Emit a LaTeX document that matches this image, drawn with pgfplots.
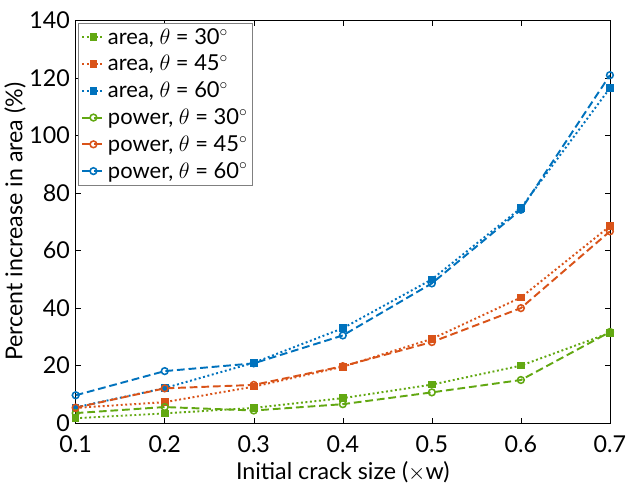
\documentclass[border={0pt 0pt 2pt 6pt}]{standalone}
\usepackage{fontspec}
\setmainfont{Lato}
\usepackage{pgfplots}
\pgfplotsset{compat=1.18}
\definecolor{mgreen}{HTML}{62A812}
\definecolor{morange}{HTML}{D95319}
\definecolor{mblue}{HTML}{0072BD}
\begin{document}
\begin{tikzpicture}
\begin{axis}[
  scale only axis,
  width=414pt, height=312pt,
  xmin=0.1, xmax=0.7, ymin=0, ymax=140,
  xtick={0.1,0.2,...,0.7},
  ytick={0,20,...,140},
  xticklabels={0.1,0.2,0.3,0.4,0.5,0.6,0.7},
  tick align=inside,
  major tick length=4pt,
  tick style={black, thin},
  axis line style={black, thin},
  /pgf/number format/assume math mode=true,
  tick label style={font=\fontsize{18}{21}\selectfont},
  xticklabel style={yshift=-6pt},
  yticklabel style={xshift=-1pt},
  label style={font=\fontsize{18}{21}\selectfont},
  xlabel={Initial crack size ($\times$w)},
  ylabel={Percent increase in area (\%)},
  ylabel style={yshift=-4pt},
  legend style={at={(0.005,0.995)}, anchor=north west, draw=gray, line width=0.8pt,
    font=\fontsize{17}{19}\selectfont, row sep=3pt, inner sep=2pt},
  legend cell align=left,
  every axis plot/.append style={line width=1.5pt},
  area/.style={dotted, mark=square*, mark size=2.2pt, mark options={solid}},
  power/.style={dashed, dash pattern=on 6pt off 3pt, mark=o, mark size=2.6pt, mark options={solid, line width=1.2pt}},
]
\addplot[mgreen, area] coordinates {(0.1,1.7) (0.2,3.4) (0.3,5.3) (0.4,8.7) (0.5,13.4) (0.6,20.0) (0.7,31.4)};
\addlegendentry{area, $\theta$ = 30$^\circ$}
\addplot[morange, area] coordinates {(0.1,5.3) (0.2,7.3) (0.3,12.7) (0.4,19.6) (0.5,29.3) (0.6,43.7) (0.7,68.5)};
\addlegendentry{area, $\theta$ = 45$^\circ$}
\addplot[mblue, area] coordinates {(0.1,5.5) (0.2,12.2) (0.3,21.0) (0.4,33.0) (0.5,50.0) (0.6,74.8) (0.7,116.5)};
\addlegendentry{area, $\theta$ = 60$^\circ$}
\addplot[mgreen, power] coordinates {(0.1,3.5) (0.2,5.6) (0.3,4.4) (0.4,6.6) (0.5,10.7) (0.6,15.0) (0.7,31.7)};
\addlegendentry{power, $\theta$ = 30$^\circ$}
\addplot[morange, power] coordinates {(0.1,5.4) (0.2,12.1) (0.3,13.3) (0.4,19.8) (0.5,28.2) (0.6,40.0) (0.7,66.7)};
\addlegendentry{power, $\theta$ = 45$^\circ$}
\addplot[mblue, power] coordinates {(0.1,9.7) (0.2,18.1) (0.3,20.8) (0.4,30.5) (0.5,48.6) (0.6,74.2) (0.7,121.0)};
\addlegendentry{power, $\theta$ = 60$^\circ$}
\end{axis}
\end{tikzpicture}
\end{document}
